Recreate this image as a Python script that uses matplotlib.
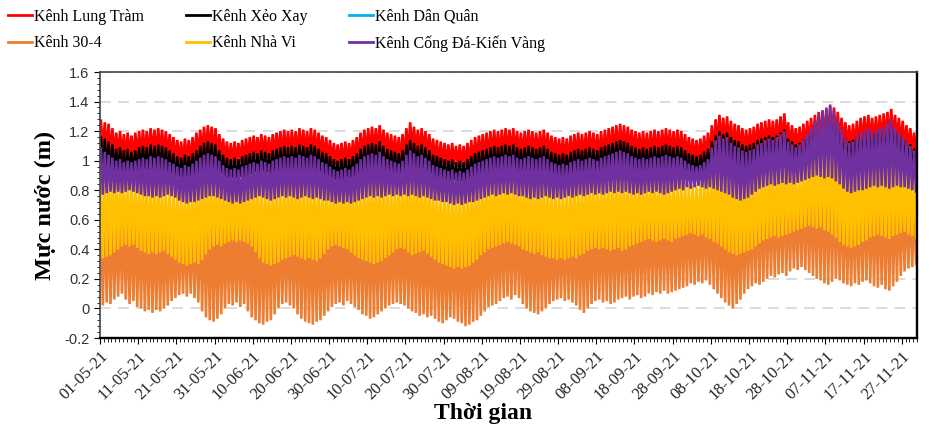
import numpy as np
import pandas as pd
import matplotlib
matplotlib.use("Agg")
import matplotlib.pyplot as plt
import matplotlib.dates as mdates
from matplotlib.ticker import AutoMinorLocator

plt.rcParams['font.family'] = ['Liberation Serif', 'DejaVu Serif']
plt.rcParams['path.simplify'] = False   # keep every daily spike

# daily values, 01-05-2021 .. 30-11-2021 (214 days); hi = daily max, lo = daily min
dates = pd.date_range('2021-05-01', periods=214, freq='D')

lung_tram_hi = [
    1.27, 1.26, 1.25, 1.22, 1.19, 1.2, 1.18, 1.19, 1.17, 1.19,
    1.2, 1.21, 1.2, 1.22, 1.21, 1.22, 1.21, 1.2, 1.18, 1.16,
    1.14, 1.13, 1.15, 1.14, 1.16, 1.19, 1.21, 1.23, 1.24, 1.23,
    1.22, 1.18, 1.15, 1.13, 1.12, 1.13, 1.12, 1.14, 1.15, 1.16,
    1.17, 1.16, 1.18, 1.17, 1.16, 1.18, 1.19, 1.2, 1.21, 1.2,
    1.21, 1.2, 1.22, 1.21, 1.2, 1.22, 1.21, 1.19, 1.17, 1.16,
    1.14, 1.12, 1.11, 1.12, 1.13, 1.12, 1.14, 1.16, 1.19, 1.21,
    1.22, 1.23, 1.22, 1.24, 1.21, 1.19, 1.18, 1.17, 1.16, 1.18,
    1.22, 1.26, 1.23, 1.21, 1.22, 1.2, 1.18, 1.15, 1.14, 1.13,
    1.12, 1.11, 1.12, 1.1, 1.11, 1.1, 1.12, 1.14, 1.16, 1.17,
    1.18, 1.19, 1.2, 1.21, 1.2, 1.21, 1.22, 1.21, 1.22, 1.2,
    1.19, 1.2, 1.21, 1.2, 1.19, 1.2, 1.21, 1.19, 1.17, 1.16,
    1.15, 1.16, 1.15, 1.17, 1.18, 1.19, 1.18, 1.19, 1.2, 1.19,
    1.18, 1.2, 1.21, 1.22, 1.23, 1.24, 1.25, 1.24, 1.23, 1.21,
    1.2, 1.19, 1.2, 1.19, 1.2, 1.21, 1.2, 1.21, 1.22, 1.21,
    1.2, 1.21, 1.2, 1.18, 1.16, 1.15, 1.14, 1.15, 1.17, 1.19,
    1.24, 1.28, 1.31, 1.29, 1.3, 1.27, 1.25, 1.24, 1.22, 1.21,
    1.22, 1.23, 1.25, 1.26, 1.27, 1.28, 1.27, 1.28, 1.3, 1.32,
    1.26, 1.24, 1.22, 1.23, 1.25, 1.27, 1.29, 1.31, 1.33, 1.34,
    1.35, 1.37, 1.36, 1.33, 1.29, 1.26, 1.24, 1.25, 1.27, 1.29,
    1.3, 1.31, 1.29, 1.3, 1.31, 1.32, 1.33, 1.35, 1.31, 1.29,
    1.27, 1.24, 1.22, 1.19]
lung_tram_lo = [
    1.06, 1.05, 1.04, 1.03, 1.02, 1.02, 1.01, 1.02, 1.01, 1.02,
    1.03, 1.04, 1.03, 1.04, 1.03, 1.04, 1.03, 1.02, 1.01, 1.0,
    0.99, 0.98, 0.99, 0.99, 1.0, 1.02, 1.03, 1.04, 1.05, 1.04,
    1.03, 1.01, 0.99, 0.98, 0.98, 0.98, 0.99, 0.99, 1.0, 1.01,
    1.02, 1.01, 1.02, 1.02, 1.01, 1.02, 1.03, 1.03, 1.04, 1.03,
    1.04, 1.03, 1.04, 1.04, 1.03, 1.04, 1.03, 1.02, 1.0, 0.99,
    0.98, 0.97, 0.97, 0.97, 0.98, 0.98, 0.99, 1.0, 1.02, 1.03,
    1.04, 1.05, 1.04, 1.05, 1.03, 1.02, 1.01, 1.01, 1.0, 1.01,
    1.04, 1.06, 1.05, 1.04, 1.04, 1.03, 1.01, 0.99, 0.98, 0.98,
    0.97, 0.96, 0.97, 0.96, 0.96, 0.96, 0.97, 0.98, 1.0, 1.01,
    1.01, 1.02, 1.03, 1.03, 1.03, 1.04, 1.04, 1.03, 1.04, 1.03,
    1.02, 1.03, 1.03, 1.03, 1.02, 1.03, 1.03, 1.02, 1.01, 1.0,
    0.99, 1.0, 0.99, 1.0, 1.01, 1.02, 1.01, 1.02, 1.03, 1.02,
    1.01, 1.02, 1.03, 1.04, 1.05, 1.06, 1.06, 1.05, 1.05, 1.04,
    1.03, 1.03, 1.03, 1.02, 1.03, 1.04, 1.03, 1.04, 1.04, 1.04,
    1.03, 1.04, 1.03, 1.02, 1.0, 0.99, 0.99, 1.0, 1.01, 1.02,
    1.06, 1.09, 1.11, 1.1, 1.1, 1.08, 1.07, 1.06, 1.05, 1.05,
    1.05, 1.06, 1.08, 1.08, 1.09, 1.1, 1.09, 1.1, 1.11, 1.12,
    1.08, 1.07, 1.06, 1.06, 1.08, 1.09, 1.1, 1.12, 1.13, 1.14,
    1.15, 1.16, 1.15, 1.13, 1.11, 1.08, 1.07, 1.07, 1.09, 1.1,
    1.11, 1.12, 1.11, 1.11, 1.12, 1.13, 1.13, 1.14, 1.12, 1.1,
    1.09, 1.07, 1.05, 1.03]

xeo_xay_hi = [
    1.16, 1.15, 1.13, 1.11, 1.08, 1.09, 1.07, 1.08, 1.06, 1.07,
    1.09, 1.1, 1.09, 1.11, 1.1, 1.11, 1.1, 1.09, 1.07, 1.05,
    1.03, 1.02, 1.04, 1.03, 1.05, 1.07, 1.1, 1.12, 1.13, 1.12,
    1.11, 1.07, 1.04, 1.02, 1.01, 1.02, 1.01, 1.03, 1.04, 1.05,
    1.06, 1.05, 1.07, 1.06, 1.05, 1.07, 1.08, 1.09, 1.1, 1.09,
    1.1, 1.09, 1.11, 1.1, 1.09, 1.11, 1.1, 1.08, 1.06, 1.05,
    1.03, 1.01, 1.0, 1.01, 1.02, 1.01, 1.03, 1.05, 1.08, 1.1,
    1.11, 1.12, 1.11, 1.13, 1.1, 1.08, 1.07, 1.06, 1.05, 1.07,
    1.11, 1.14, 1.12, 1.1, 1.11, 1.09, 1.07, 1.04, 1.03, 1.02,
    1.01, 1.0, 1.01, 0.99, 1.0, 0.99, 1.01, 1.03, 1.05, 1.06,
    1.07, 1.08, 1.09, 1.1, 1.09, 1.1, 1.11, 1.1, 1.11, 1.09,
    1.08, 1.09, 1.1, 1.09, 1.08, 1.09, 1.1, 1.08, 1.06, 1.05,
    1.04, 1.05, 1.04, 1.06, 1.07, 1.08, 1.07, 1.08, 1.09, 1.08,
    1.07, 1.09, 1.1, 1.11, 1.12, 1.13, 1.14, 1.13, 1.12, 1.1,
    1.09, 1.08, 1.09, 1.08, 1.09, 1.1, 1.09, 1.1, 1.11, 1.1,
    1.09, 1.1, 1.09, 1.07, 1.05, 1.04, 1.03, 1.04, 1.06, 1.08,
    1.13, 1.17, 1.2, 1.18, 1.19, 1.16, 1.14, 1.13, 1.11, 1.1,
    1.11, 1.12, 1.14, 1.15, 1.16, 1.17, 1.16, 1.17, 1.19, 1.21,
    1.15, 1.13, 1.11, 1.12, 1.14, 1.16, 1.18, 1.2, 1.22, 1.23,
    1.24, 1.26, 1.25, 1.22, 1.18, 1.15, 1.13, 1.14, 1.16, 1.18,
    1.19, 1.2, 1.18, 1.19, 1.2, 1.21, 1.22, 1.24, 1.2, 1.18,
    1.16, 1.13, 1.11, 1.08]
xeo_xay_lo = [
    0.96, 0.95, 0.94, 0.93, 0.92, 0.92, 0.91, 0.92, 0.91, 0.92,
    0.93, 0.94, 0.93, 0.94, 0.93, 0.94, 0.93, 0.92, 0.91, 0.9,
    0.89, 0.88, 0.89, 0.89, 0.9, 0.92, 0.93, 0.94, 0.95, 0.94,
    0.93, 0.91, 0.89, 0.88, 0.88, 0.88, 0.89, 0.89, 0.9, 0.91,
    0.92, 0.91, 0.92, 0.92, 0.91, 0.92, 0.93, 0.93, 0.94, 0.93,
    0.94, 0.93, 0.94, 0.94, 0.93, 0.94, 0.93, 0.92, 0.9, 0.89,
    0.88, 0.87, 0.87, 0.87, 0.88, 0.88, 0.89, 0.9, 0.92, 0.93,
    0.94, 0.95, 0.94, 0.95, 0.93, 0.92, 0.91, 0.91, 0.9, 0.91,
    0.94, 0.96, 0.95, 0.94, 0.94, 0.93, 0.91, 0.89, 0.88, 0.88,
    0.87, 0.86, 0.87, 0.86, 0.86, 0.86, 0.87, 0.88, 0.9, 0.91,
    0.91, 0.92, 0.93, 0.93, 0.93, 0.94, 0.94, 0.93, 0.94, 0.93,
    0.92, 0.93, 0.93, 0.93, 0.92, 0.93, 0.93, 0.92, 0.91, 0.9,
    0.89, 0.9, 0.89, 0.9, 0.91, 0.92, 0.91, 0.92, 0.93, 0.92,
    0.91, 0.92, 0.93, 0.94, 0.95, 0.96, 0.96, 0.95, 0.95, 0.94,
    0.93, 0.93, 0.93, 0.92, 0.93, 0.94, 0.93, 0.94, 0.94, 0.94,
    0.93, 0.94, 0.93, 0.92, 0.9, 0.89, 0.89, 0.9, 0.91, 0.92,
    0.96, 0.99, 1.01, 1.0, 1.0, 0.98, 0.97, 0.96, 0.95, 0.95,
    0.95, 0.96, 0.98, 0.98, 0.99, 1.0, 0.99, 1.0, 1.01, 1.02,
    0.98, 0.97, 0.96, 0.96, 0.98, 0.99, 1.0, 1.02, 1.03, 1.04,
    1.05, 1.06, 1.05, 1.03, 1.01, 0.98, 0.97, 0.97, 0.99, 1.0,
    1.01, 1.02, 1.01, 1.01, 1.02, 1.03, 1.03, 1.04, 1.02, 1.0,
    0.99, 0.97, 0.95, 0.93]

dan_quan_hi = [
    0.74, 0.75, 0.74, 0.73, 0.72, 0.73, 0.72, 0.71, 0.7, 0.71,
    0.72, 0.73, 0.72, 0.71, 0.72, 0.71, 0.7, 0.7, 0.69, 0.68,
    0.67, 0.68, 0.69, 0.7, 0.71, 0.72, 0.73, 0.74, 0.73, 0.72,
    0.71, 0.7, 0.69, 0.68, 0.69, 0.68, 0.69, 0.7, 0.71, 0.7,
    0.71, 0.72, 0.71, 0.72, 0.71, 0.72, 0.73, 0.72, 0.73, 0.72,
    0.73, 0.72, 0.73, 0.72, 0.71, 0.72, 0.71, 0.7, 0.69, 0.68,
    0.68, 0.67, 0.68, 0.67, 0.68, 0.69, 0.7, 0.71, 0.72, 0.73,
    0.74, 0.73, 0.74, 0.73, 0.72, 0.71, 0.7, 0.71, 0.7, 0.71,
    0.72, 0.74, 0.73, 0.72, 0.71, 0.7, 0.69, 0.68, 0.67, 0.68,
    0.67, 0.66, 0.67, 0.66, 0.67, 0.68, 0.69, 0.7, 0.71, 0.72,
    0.73, 0.74, 0.73, 0.74, 0.75, 0.74, 0.75, 0.74, 0.73, 0.72,
    0.73, 0.72, 0.73, 0.72, 0.71, 0.72, 0.71, 0.7, 0.69, 0.7,
    0.69, 0.7, 0.71, 0.72, 0.73, 0.72, 0.73, 0.74, 0.73, 0.74,
    0.73, 0.74, 0.75, 0.74, 0.75, 0.76, 0.75, 0.74, 0.73, 0.74,
    0.73, 0.74, 0.75, 0.74, 0.73, 0.74, 0.75, 0.74, 0.73, 0.74,
    0.74, 0.75, 0.74, 0.73, 0.72, 0.71, 0.72, 0.73, 0.74, 0.75,
    0.76, 0.77, 0.78, 0.77, 0.76, 0.75, 0.74, 0.74, 0.73, 0.74,
    0.75, 0.76, 0.77, 0.78, 0.78, 0.79, 0.78, 0.79, 0.8, 0.8,
    0.79, 0.78, 0.78, 0.79, 0.8, 0.81, 0.82, 0.83, 0.84, 0.85,
    0.85, 0.86, 0.84, 0.82, 0.8, 0.78, 0.77, 0.78, 0.79, 0.8,
    0.8, 0.81, 0.8, 0.81, 0.82, 0.82, 0.83, 0.84, 0.82, 0.8,
    0.79, 0.78, 0.77, 0.76]
dan_quan_lo = [
    0.64, 0.63, 0.62, 0.63, 0.64, 0.63, 0.62, 0.6, 0.6, 0.62,
    0.63, 0.64, 0.63, 0.62, 0.63, 0.62, 0.61, 0.6, 0.6, 0.59,
    0.58, 0.56, 0.55, 0.57, 0.6, 0.62, 0.63, 0.64, 0.64, 0.63,
    0.62, 0.62, 0.61, 0.6, 0.59, 0.58, 0.57, 0.58, 0.6, 0.58,
    0.56, 0.54, 0.56, 0.58, 0.6, 0.62, 0.62, 0.6, 0.58, 0.57,
    0.56, 0.55, 0.56, 0.59, 0.61, 0.62, 0.63, 0.63, 0.62, 0.62,
    0.61, 0.6, 0.58, 0.57, 0.55, 0.54, 0.55, 0.57, 0.6, 0.62,
    0.63, 0.64, 0.64, 0.63, 0.62, 0.61, 0.6, 0.59, 0.58, 0.57,
    0.58, 0.6, 0.62, 0.63, 0.64, 0.63, 0.62, 0.61, 0.6, 0.59,
    0.58, 0.56, 0.55, 0.54, 0.54, 0.55, 0.57, 0.6, 0.62, 0.63,
    0.64, 0.65, 0.64, 0.64, 0.65, 0.64, 0.63, 0.62, 0.62, 0.63,
    0.64, 0.65, 0.65, 0.64, 0.64, 0.65, 0.64, 0.63, 0.62, 0.62,
    0.61, 0.61, 0.62, 0.63, 0.64, 0.65, 0.65, 0.64, 0.65, 0.65,
    0.66, 0.65, 0.64, 0.64, 0.63, 0.63, 0.62, 0.63, 0.64, 0.65,
    0.66, 0.65, 0.66, 0.67, 0.66, 0.65, 0.66, 0.67, 0.66, 0.65,
    0.66, 0.67, 0.66, 0.65, 0.66, 0.67, 0.66, 0.65, 0.66, 0.67,
    0.66, 0.65, 0.64, 0.63, 0.64, 0.65, 0.66, 0.65, 0.66, 0.67,
    0.66, 0.67, 0.66, 0.67, 0.68, 0.67, 0.68, 0.69, 0.68, 0.69,
    0.68, 0.69, 0.7, 0.69, 0.7, 0.69, 0.68, 0.69, 0.7, 0.69,
    0.68, 0.69, 0.68, 0.67, 0.68, 0.67, 0.66, 0.67, 0.68, 0.67,
    0.68, 0.67, 0.68, 0.69, 0.68, 0.67, 0.68, 0.69, 0.68, 0.67,
    0.68, 0.67, 0.66, 0.67]

kenh_304_hi = [
    0.72, 0.74, 0.73, 0.71, 0.7, 0.68, 0.67, 0.66, 0.65, 0.66,
    0.67, 0.68, 0.67, 0.66, 0.65, 0.64, 0.63, 0.62, 0.61, 0.6,
    0.59, 0.6, 0.61, 0.62, 0.64, 0.66, 0.68, 0.7, 0.71, 0.7,
    0.69, 0.67, 0.66, 0.64, 0.63, 0.62, 0.61, 0.62, 0.63, 0.64,
    0.65, 0.67, 0.68, 0.69, 0.68, 0.67, 0.66, 0.65, 0.66, 0.67,
    0.68, 0.69, 0.7, 0.71, 0.7, 0.69, 0.68, 0.66, 0.64, 0.62,
    0.61, 0.6, 0.61, 0.6, 0.62, 0.63, 0.64, 0.66, 0.68, 0.7,
    0.71, 0.72, 0.71, 0.7, 0.68, 0.66, 0.65, 0.64, 0.65, 0.66,
    0.68, 0.7, 0.69, 0.68, 0.67, 0.66, 0.64, 0.63, 0.62, 0.61,
    0.6, 0.59, 0.6, 0.61, 0.6, 0.61, 0.62, 0.64, 0.66, 0.67,
    0.68, 0.69, 0.7, 0.71, 0.7, 0.71, 0.72, 0.71, 0.7, 0.69,
    0.68, 0.67, 0.66, 0.65, 0.64, 0.65, 0.64, 0.63, 0.62, 0.63,
    0.64, 0.65, 0.66, 0.67, 0.68, 0.69, 0.68, 0.69, 0.7, 0.71,
    0.7, 0.71, 0.72, 0.73, 0.74, 0.73, 0.72, 0.71, 0.7, 0.71,
    0.72, 0.73, 0.74, 0.73, 0.74, 0.75, 0.74, 0.73, 0.74, 0.73,
    0.74, 0.75, 0.76, 0.75, 0.74, 0.73, 0.74, 0.75, 0.77, 0.78,
    0.8, 0.82, 0.81, 0.79, 0.77, 0.75, 0.74, 0.73, 0.74, 0.76,
    0.78, 0.8, 0.82, 0.83, 0.84, 0.85, 0.84, 0.86, 0.88, 0.9,
    0.86, 0.84, 0.83, 0.84, 0.86, 0.88, 0.9, 0.92, 0.94, 0.96,
    0.97, 0.98, 0.95, 0.9, 0.85, 0.82, 0.8, 0.81, 0.83, 0.85,
    0.86, 0.87, 0.85, 0.86, 0.87, 0.88, 0.89, 0.9, 0.87, 0.84,
    0.82, 0.8, 0.79, 0.77]
kenh_304_lo = [
    0.02, 0.04, 0.03, 0.06, 0.08, 0.1, 0.06, 0.03, 0.05, 0.01,
    0.0, -0.02, -0.01, -0.03, -0.01, -0.02, 0.0, 0.02, 0.05, 0.07,
    0.09, 0.1, 0.08, 0.1, 0.07, 0.04, -0.02, -0.06, -0.08, -0.09,
    -0.07, -0.04, 0.0, 0.03, 0.02, 0.04, 0.01, 0.03, -0.02, -0.06,
    -0.08, -0.1, -0.11, -0.09, -0.08, -0.04, 0.0, 0.03, 0.04, 0.02,
    0.0, -0.04, -0.07, -0.09, -0.1, -0.11, -0.09, -0.08, -0.05, -0.02,
    0.01, 0.03, 0.04, 0.02, 0.05, 0.03, 0.01, -0.01, -0.04, -0.05,
    -0.07, -0.06, -0.04, -0.02, 0.0, 0.02, 0.03, 0.04, 0.03, 0.02,
    0.0, -0.02, -0.03, -0.05, -0.04, -0.06, -0.05, -0.07, -0.09, -0.1,
    -0.08, -0.06, -0.07, -0.09, -0.1, -0.12, -0.11, -0.09, -0.08, -0.05,
    -0.02, 0.01, 0.02, 0.03, 0.05, 0.07, 0.08, 0.06, 0.09, 0.07,
    0.03, 0.0, -0.02, -0.03, -0.04, -0.02, 0.0, 0.03, 0.05, 0.06,
    0.07, 0.05, 0.06, 0.04, 0.02, -0.01, -0.03, 0.0, 0.03, 0.05,
    0.06, 0.04, 0.05, 0.03, 0.04, 0.06, 0.07, 0.08, 0.06, 0.08,
    0.09, 0.07, 0.08, 0.1, 0.09, 0.11, 0.1, 0.12, 0.1, 0.11,
    0.12, 0.13, 0.14, 0.15, 0.17, 0.16, 0.18, 0.17, 0.19, 0.16,
    0.13, 0.1, 0.07, 0.04, 0.02, 0.0, 0.03, 0.06, 0.1, 0.13,
    0.15, 0.17, 0.16, 0.18, 0.2, 0.22, 0.21, 0.23, 0.24, 0.22,
    0.25, 0.27, 0.26, 0.28, 0.26, 0.24, 0.22, 0.2, 0.19, 0.17,
    0.16, 0.18, 0.2, 0.19, 0.17, 0.16, 0.15, 0.17, 0.16, 0.18,
    0.19, 0.17, 0.15, 0.14, 0.16, 0.13, 0.12, 0.15, 0.18, 0.22,
    0.25, 0.27, 0.28, 0.3]

nha_vi_hi = [
    0.88, 0.9, 0.91, 0.92, 0.9, 0.89, 0.88, 0.87, 0.86, 0.85,
    0.86, 0.87, 0.86, 0.85, 0.86, 0.85, 0.84, 0.83, 0.82, 0.83,
    0.82, 0.81, 0.82, 0.83, 0.84, 0.86, 0.87, 0.88, 0.87, 0.86,
    0.85, 0.84, 0.83, 0.82, 0.83, 0.82, 0.81, 0.82, 0.83, 0.84,
    0.85, 0.86, 0.85, 0.84, 0.85, 0.86, 0.87, 0.86, 0.85, 0.86,
    0.87, 0.88, 0.87, 0.86, 0.87, 0.86, 0.85, 0.84, 0.83, 0.82,
    0.81, 0.82, 0.81, 0.82, 0.83, 0.82, 0.83, 0.84, 0.86, 0.87,
    0.88, 0.89, 0.88, 0.89, 0.87, 0.86, 0.85, 0.84, 0.85, 0.86,
    0.88, 0.9, 0.89, 0.88, 0.87, 0.86, 0.84, 0.83, 0.82, 0.81,
    0.8, 0.81, 0.8, 0.81, 0.8, 0.81, 0.82, 0.83, 0.84, 0.85,
    0.86, 0.87, 0.88, 0.89, 0.88, 0.89, 0.9, 0.89, 0.88, 0.87,
    0.86, 0.87, 0.88, 0.87, 0.86, 0.87, 0.86, 0.85, 0.84, 0.83,
    0.82, 0.83, 0.84, 0.85, 0.86, 0.87, 0.86, 0.87, 0.88, 0.87,
    0.86, 0.87, 0.88, 0.89, 0.9, 0.91, 0.9, 0.89, 0.88, 0.87,
    0.86, 0.87, 0.88, 0.87, 0.88, 0.89, 0.88, 0.87, 0.88, 0.87,
    0.86, 0.87, 0.86, 0.85, 0.84, 0.83, 0.84, 0.85, 0.87, 0.88,
    0.92, 0.95, 0.97, 0.96, 0.95, 0.93, 0.91, 0.9, 0.88, 0.87,
    0.88, 0.89, 0.91, 0.92, 0.93, 0.94, 0.93, 0.95, 0.97, 0.99,
    0.95, 0.93, 0.92, 0.93, 0.95, 0.98, 1.01, 1.04, 1.07, 1.09,
    1.1, 1.12, 1.08, 1.03, 0.98, 0.94, 0.92, 0.93, 0.95, 0.97,
    0.98, 0.99, 0.97, 0.98, 0.99, 1.0, 1.01, 1.03, 0.99, 0.96,
    0.94, 0.92, 0.9, 0.88]
nha_vi_lo = [
    0.34, 0.35, 0.36, 0.38, 0.4, 0.42, 0.43, 0.42, 0.43, 0.41,
    0.39, 0.38, 0.37, 0.38, 0.37, 0.38, 0.39, 0.37, 0.35, 0.33,
    0.31, 0.3, 0.29, 0.3, 0.31, 0.3, 0.33, 0.37, 0.4, 0.42,
    0.43, 0.42, 0.44, 0.45, 0.46, 0.45, 0.46, 0.45, 0.44, 0.42,
    0.38, 0.34, 0.31, 0.3, 0.29, 0.3, 0.31, 0.33, 0.34, 0.35,
    0.36, 0.35, 0.34, 0.33, 0.34, 0.33, 0.32, 0.34, 0.37, 0.4,
    0.42, 0.43, 0.42, 0.41, 0.4, 0.38, 0.36, 0.34, 0.33, 0.32,
    0.31, 0.3, 0.31, 0.32, 0.34, 0.36, 0.38, 0.4, 0.41, 0.4,
    0.38, 0.36, 0.37, 0.38, 0.39, 0.37, 0.35, 0.33, 0.31, 0.3,
    0.29, 0.28, 0.27, 0.28, 0.27, 0.28, 0.29, 0.31, 0.33, 0.36,
    0.38, 0.4, 0.41, 0.42, 0.43, 0.44, 0.45, 0.44, 0.43, 0.42,
    0.4, 0.39, 0.38, 0.37, 0.38, 0.36, 0.35, 0.34, 0.34, 0.33,
    0.34, 0.33, 0.34, 0.35, 0.34, 0.36, 0.37, 0.39, 0.4, 0.41,
    0.4, 0.41, 0.4, 0.39, 0.4, 0.41, 0.39, 0.4, 0.42, 0.43,
    0.44, 0.45, 0.46, 0.47, 0.46, 0.45, 0.46, 0.47, 0.46, 0.45,
    0.47, 0.48, 0.49, 0.5, 0.51, 0.5, 0.49, 0.5, 0.48, 0.47,
    0.45, 0.44, 0.42, 0.4, 0.38, 0.37, 0.36, 0.37, 0.38, 0.39,
    0.4, 0.42, 0.44, 0.46, 0.47, 0.48, 0.49, 0.48, 0.49, 0.5,
    0.51, 0.52, 0.53, 0.54, 0.55, 0.56, 0.55, 0.54, 0.55, 0.53,
    0.52, 0.5, 0.48, 0.45, 0.43, 0.42, 0.41, 0.42, 0.43, 0.45,
    0.46, 0.48, 0.49, 0.5, 0.49, 0.48, 0.47, 0.49, 0.5, 0.51,
    0.52, 0.5, 0.49, 0.48]

cong_da_hi = [
    1.08, 1.06, 1.04, 1.02, 1.0, 1.01, 0.99, 1.0, 0.99, 1.0,
    1.01, 1.02, 1.01, 1.03, 1.02, 1.03, 1.02, 1.01, 0.99, 0.98,
    0.96, 0.95, 0.97, 0.96, 0.98, 1.0, 1.02, 1.04, 1.05, 1.04,
    1.03, 1.0, 0.97, 0.95, 0.94, 0.95, 0.94, 0.96, 0.97, 0.98,
    0.99, 0.98, 1.0, 0.99, 0.98, 1.0, 1.01, 1.02, 1.03, 1.02,
    1.03, 1.02, 1.04, 1.03, 1.02, 1.04, 1.03, 1.01, 0.99, 0.98,
    0.96, 0.94, 0.93, 0.94, 0.95, 0.94, 0.96, 0.98, 1.01, 1.03,
    1.04, 1.05, 1.04, 1.06, 1.03, 1.01, 1.0, 0.99, 0.98, 1.0,
    1.04, 1.07, 1.05, 1.03, 1.04, 1.02, 1.0, 0.97, 0.96, 0.95,
    0.94, 0.93, 0.94, 0.92, 0.93, 0.92, 0.94, 0.96, 0.98, 0.99,
    1.0, 1.01, 1.02, 1.03, 1.02, 1.03, 1.04, 1.03, 1.04, 1.02,
    1.01, 1.02, 1.03, 1.02, 1.01, 1.02, 1.03, 1.01, 0.99, 0.98,
    0.97, 0.98, 0.97, 0.99, 1.0, 1.01, 1.0, 1.01, 1.02, 1.01,
    1.0, 1.02, 1.03, 1.04, 1.05, 1.06, 1.07, 1.06, 1.05, 1.03,
    1.02, 1.01, 1.02, 1.01, 1.02, 1.03, 1.02, 1.03, 1.04, 1.03,
    1.02, 1.03, 1.02, 1.0, 0.98, 0.97, 0.96, 0.97, 0.99, 1.01,
    1.09, 1.14, 1.17, 1.15, 1.16, 1.12, 1.1, 1.09, 1.07, 1.06,
    1.07, 1.08, 1.11, 1.12, 1.14, 1.15, 1.14, 1.16, 1.18, 1.2,
    1.13, 1.11, 1.09, 1.11, 1.14, 1.18, 1.22, 1.27, 1.31, 1.34,
    1.36, 1.38, 1.34, 1.28, 1.21, 1.15, 1.12, 1.13, 1.16, 1.19,
    1.2, 1.22, 1.19, 1.21, 1.22, 1.23, 1.25, 1.28, 1.22, 1.19,
    1.16, 1.13, 1.1, 1.07]
cong_da_lo = [
    0.77, 0.78, 0.79, 0.78, 0.79, 0.78, 0.79, 0.8, 0.79, 0.78,
    0.77, 0.76, 0.76, 0.75, 0.76, 0.75, 0.76, 0.77, 0.76, 0.75,
    0.73, 0.72, 0.71, 0.72, 0.72, 0.73, 0.74, 0.75, 0.76, 0.76,
    0.75, 0.74, 0.73, 0.72, 0.71, 0.72, 0.71, 0.72, 0.73, 0.74,
    0.75, 0.76, 0.75, 0.74, 0.73, 0.74, 0.75, 0.76, 0.75, 0.76,
    0.75, 0.74, 0.75, 0.76, 0.75, 0.74, 0.75, 0.74, 0.73, 0.73,
    0.72, 0.71, 0.72, 0.71, 0.72, 0.71, 0.72, 0.73, 0.74, 0.75,
    0.76, 0.75, 0.76, 0.75, 0.76, 0.77, 0.76, 0.77, 0.76, 0.77,
    0.76, 0.77, 0.76, 0.75, 0.76, 0.75, 0.74, 0.73, 0.73, 0.72,
    0.72, 0.71, 0.7, 0.71, 0.7, 0.71, 0.72, 0.72, 0.73, 0.74,
    0.75, 0.76, 0.77, 0.76, 0.77, 0.78, 0.77, 0.78, 0.77, 0.76,
    0.76, 0.75, 0.74, 0.75, 0.74, 0.75, 0.76, 0.75, 0.74, 0.75,
    0.74, 0.75, 0.76, 0.75, 0.76, 0.77, 0.76, 0.77, 0.78, 0.77,
    0.78, 0.77, 0.78, 0.79, 0.78, 0.79, 0.78, 0.79, 0.78, 0.77,
    0.78, 0.77, 0.78, 0.79, 0.78, 0.79, 0.78, 0.77, 0.78, 0.79,
    0.8, 0.81, 0.8, 0.82, 0.81, 0.82, 0.83, 0.82, 0.81, 0.82,
    0.81, 0.8, 0.79, 0.78, 0.77, 0.75, 0.74, 0.73, 0.74, 0.75,
    0.77, 0.79, 0.81, 0.82, 0.83, 0.84, 0.83, 0.84, 0.85, 0.84,
    0.85, 0.84, 0.85, 0.86, 0.87, 0.88, 0.89, 0.9, 0.89, 0.88,
    0.89, 0.88, 0.86, 0.84, 0.81, 0.79, 0.78, 0.79, 0.8, 0.8,
    0.81, 0.82, 0.83, 0.82, 0.83, 0.82, 0.81, 0.82, 0.83, 0.82,
    0.82, 0.81, 0.8, 0.79]

names = ['Kênh Lung Tràm', 'Kênh Xẻo Xay', 'Kênh Dân Quân',
         'Kênh 30-4', 'Kênh Nhà Vi', 'Kênh Cống Đá-Kiến Vàng']
colors = ['#FF0000', '#000000', '#00B0F0', '#ED7D31', '#FFC000', '#7030A0']
series = [(lung_tram_hi, lung_tram_lo), (xeo_xay_hi, xeo_xay_lo),
          (dan_quan_hi, dan_quan_lo), (kenh_304_hi, kenh_304_lo),
          (nha_vi_hi, nha_vi_lo), (cong_da_hi, cong_da_lo)]
widths = [1.9, 1.7, 1.3, 1.9, 1.8, 1.8]

# high at 06h, low at 18h each day -> one tide cycle per day
t_hi = (dates + pd.Timedelta(hours=6)).values
t_lo = (dates + pd.Timedelta(hours=18)).values
t = np.column_stack((t_hi, t_lo)).ravel()

fig = plt.figure(figsize=(9.46, 4.28), dpi=100)
ax = fig.add_axes([100 / 946, 1 - 338 / 428, 817 / 946, 266 / 428])

lines = []
for (hi, lo), name, c, w in zip(series, names, colors, widths):
    y = np.column_stack((hi, lo)).ravel()
    ln, = ax.plot(t, y, color=c, lw=w, label=name, solid_joinstyle='miter')
    lines.append(ln)

ax.set_ylim(-0.2, 1.6)
ax.set_xlim(pd.Timestamp('2021-05-01'), pd.Timestamp('2021-12-01'))
ax.set_yticks(np.arange(-0.2, 1.61, 0.2))
ax.set_yticklabels(['-0.2', '0', '0.2', '0.4', '0.6', '0.8', '1', '1.2', '1.4', '1.6'],
                   family='Liberation Sans', fontsize=10.5, color='#333333')
ax.yaxis.set_minor_locator(AutoMinorLocator(5))
ax.grid(axis='y', color='#D9D9D9', ls=(0, (6, 4)), lw=1.3)
ax.set_axisbelow(True)

ticks = pd.date_range('2021-05-01', periods=22, freq='10D')
ax.set_xticks(ticks)
ax.xaxis.set_major_formatter(mdates.DateFormatter('%d-%m-%y'))
ax.xaxis.set_minor_locator(mdates.DayLocator())
plt.setp(ax.get_xticklabels(), rotation=45, ha='right', rotation_mode='anchor',
         fontsize=12, color='#222222')
ax.tick_params(axis='x', which='major', length=4, width=0.8)
ax.tick_params(axis='x', which='minor', length=3, width=0.6)
ax.tick_params(axis='y', which='major', length=4)
ax.tick_params(axis='y', which='minor', length=2)
for side in ['top', 'left']:
    ax.spines[side].set_linewidth(1.2)
    ax.spines[side].set_color('#444444')
for side in ['bottom', 'right']:
    ax.spines[side].set_linewidth(1.7)
    ax.spines[side].set_color('#000000')

ax.set_ylabel('Mực nước (m)', fontsize=17.5, fontweight='bold', labelpad=6)
ax.set_xlabel('Thời gian', fontsize=17, fontweight='bold')
ax.xaxis.set_label_coords(0.469, -0.245)

# row-major legend order like the original
order = [0, 3, 1, 4, 2, 5]
leg = fig.legend([lines[i] for i in order], [names[i] for i in order],
                 loc='upper left', bbox_to_anchor=(-0.002, 1.002), ncol=3,
                 frameon=False, fontsize=11.5, handlelength=1.5,
                 handletextpad=0.15, columnspacing=2.6, labelspacing=0.65,
                 borderaxespad=0.2)
for h in leg.legend_handles:
    h.set_linewidth(2)

fig.savefig('out.png', dpi=100)
